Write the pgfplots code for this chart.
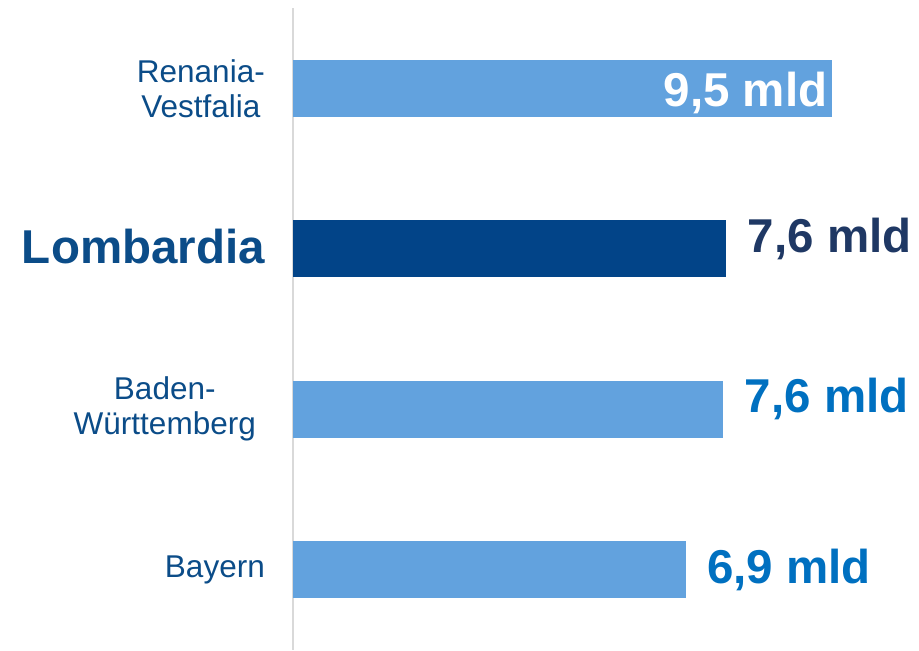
\documentclass[border=0pt]{standalone}
\usepackage{fontspec}
\setmainfont{Liberation Sans}
\usepackage{pgfplots}
\pgfplotsset{compat=1.18}
\definecolor{barlight}{HTML}{62A2DE}
\definecolor{bardark}{HTML}{024488}
\definecolor{catlbl}{HTML}{0B4C88}
\definecolor{valdark}{HTML}{1F3864}
\definecolor{valblue}{HTML}{0070C0}
\definecolor{axgray}{HTML}{D9D9D9}

\begin{document}
\begin{tikzpicture}
\path[use as bounding box] (-293pt,-1pt) rectangle (626pt,650pt);
\begin{axis}[
  at={(0,0)}, anchor=south west,
  scale only axis, width=595.35pt, height=642pt,
  xmin=0, xmax=10.5, ymin=-0.5, ymax=3.5,
  xbar, bar width=57pt, bar shift=0pt,
  axis x line=none, axis y line=left,
  y axis line style={draw=axgray, line width=2pt, -},
  ytick={0,1,2,3}, major tick length=0pt,
  yticklabels={{\raisebox{-4pt}{Bayern}}, {Baden-\hspace*{9pt}\\Württemberg\hspace*{9pt}}, {\fontsize{47.5}{50}\selectfont\bfseries\raisebox{5pt}{Lombardia}}, {Renania-\\Vestfalia}},
  yticklabel style={font=\fontsize{31.5}{35}\selectfont, text=catlbl, align=center,
    anchor=east, inner sep=0pt, xshift=-28pt},
  point meta=x,
  nodes near coords={\pgfmathprintnumber[fixed, precision=1, use comma, assume math mode=true]{\pgfplotspointmeta} mld},
  every node near coord/.append style={inner sep=0pt, font=\bfseries\fontsize{47.5}{50}\selectfont},
]
\addplot[fill=barlight, draw=none,
  every node near coord/.append style={anchor=east, xshift=-4pt, yshift=-5pt, text=white}]
  coordinates {(9.5,3)};
\addplot[fill=bardark, draw=none,
  every node near coord/.append style={anchor=west, xshift=22pt, yshift=10pt, text=valdark}]
  coordinates {(7.63,2)};
\addplot[fill=barlight, draw=none,
  every node near coord/.append style={anchor=west, xshift=22pt, yshift=10pt, text=valblue}]
  coordinates {(7.58,1)};
\addplot[fill=barlight, draw=none,
  every node near coord/.append style={anchor=west, xshift=21pt, text=valblue}]
  coordinates {(6.93,0)};
\end{axis}
\end{tikzpicture}
\end{document}
